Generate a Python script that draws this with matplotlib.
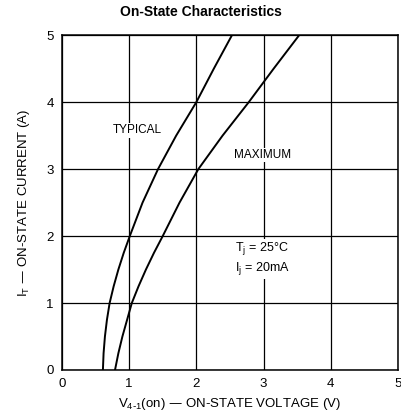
import matplotlib
matplotlib.use("Agg")
import matplotlib.pyplot as plt
import numpy as np

plt.rcParams['font.family'] = ['Liberation Sans', 'DejaVu Sans']

# curves (voltage V, current A)
typ_v = [0.61, 0.62, 0.64, 0.67, 0.71, 0.77, 0.84, 0.92, 1.01, 1.20, 1.43, 1.70, 2.00, 2.26, 2.53]
typ_i = [0.0, 0.25, 0.5, 0.75, 1.0, 1.25, 1.5, 1.75, 2.0, 2.5, 3.0, 3.5, 4.0, 4.5, 5.0]
max_v = [0.79, 0.84, 0.90, 0.97, 1.04, 1.14, 1.25, 1.37, 1.50, 1.75, 2.03, 2.39, 2.78, 3.15, 3.53]
max_i = [0.0, 0.25, 0.5, 0.75, 1.0, 1.25, 1.5, 1.75, 2.0, 2.5, 3.0, 3.5, 4.0, 4.5, 5.0]

x_ticks = [0, 1, 2, 3, 4, 5]
y_ticks = [0, 1, 2, 3, 4, 5]

fig = plt.figure(figsize=(4.02, 4.19), dpi=100)
ax = fig.add_axes([0.154, 0.117, 0.836, 0.799])

ax.plot(typ_v, typ_i, color='black', lw=1.4)
ax.plot(max_v, max_i, color='black', lw=1.4)

ax.set_xlim(0, 5)
ax.set_ylim(0, 5)
ax.set_xticks(x_ticks)
ax.set_yticks(y_ticks)
ax.grid(True, color='black', lw=0.9)
ax.tick_params(length=0, labelsize=9.5, pad=6)
for s in ax.spines.values():
    s.set_linewidth(1.1)

ax.text(1.12, 3.58, 'TYPICAL', ha='center', va='center', fontsize=8.5,
        bbox=dict(facecolor='white', edgecolor='none', pad=1))
ax.text(2.98, 3.21, 'MAXIMUM', ha='center', va='center', fontsize=8.5,
        bbox=dict(facecolor='white', edgecolor='none', pad=1))
ax.text(2.98, 1.66, '$\\mathregular{T_j}$ = 25°C\n$\\mathregular{I_j}$ = 20mA',
        ha='center', va='center', fontsize=9, linespacing=1.3,
        bbox=dict(facecolor='white', edgecolor='none', pad=1))

ax.set_xlabel('$\\mathregular{V_{4\\text{-}1}}$(on) — ON-STATE VOLTAGE (V)', fontsize=9.5, labelpad=4)
ax.set_ylabel('$\\mathregular{I_T}$ — ON-STATE CURRENT (A)', fontsize=9.5, labelpad=10)
fig.text(0.50, 0.972, 'On-State Characteristics', ha='center', va='center',
         fontsize=10, fontweight='bold')

fig.savefig('out.png', dpi=100)
